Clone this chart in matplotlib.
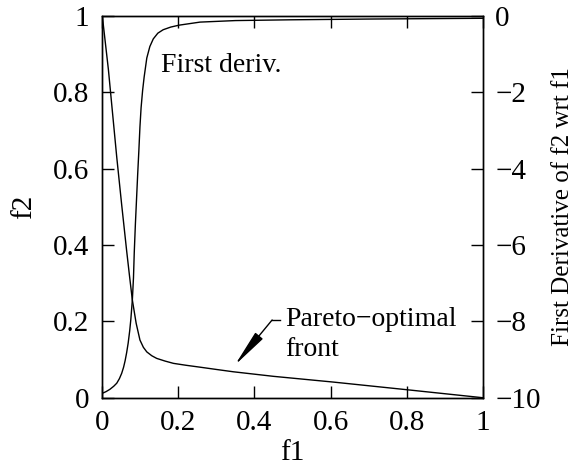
import matplotlib
matplotlib.use("Agg")
import matplotlib.pyplot as plt

plt.rcParams['font.family'] = ['Liberation Serif', 'DejaVu Serif']

# Pareto-optimal front (f1, f2)
front_f1 = [0.0, 0.008, 0.016, 0.027, 0.038, 0.051, 0.064, 0.072, 0.079, 0.089,
            0.099, 0.108, 0.117, 0.130, 0.143, 0.165, 0.187, 0.220, 0.257, 0.300,
            0.344, 0.45, 0.607, 0.80, 1.0]
front_f2 = [1.0, 0.93, 0.860, 0.745, 0.630, 0.505, 0.385, 0.315, 0.256, 0.195,
            0.151, 0.132, 0.120, 0.110, 0.103, 0.096, 0.090, 0.085, 0.080, 0.074,
            0.068, 0.056, 0.041, 0.021, 0.0]

# First derivative of f2 wrt f1
deriv_f1 = [0.0, 0.010, 0.020, 0.030, 0.038, 0.045, 0.051, 0.056, 0.060, 0.064,
            0.068, 0.072, 0.075, 0.079, 0.082, 0.084, 0.087, 0.090, 0.093, 0.096,
            0.099, 0.102, 0.106, 0.110, 0.117, 0.125, 0.134, 0.146, 0.160, 0.180,
            0.202, 0.257, 0.35, 0.493, 0.7, 1.0]
deriv_val = [-9.885, -9.84, -9.78, -9.70, -9.62, -9.50, -9.36, -9.20, -9.03, -8.82,
             -8.57, -8.25, -7.95, -7.44, -6.85, -6.20, -5.45, -4.80, -4.15, -3.55,
             -2.90, -2.40, -1.95, -1.60, -1.10, -0.80, -0.60, -0.45, -0.36, -0.29,
             -0.24, -0.16, -0.12, -0.10, -0.08, -0.06]

xticks = [0, 0.2, 0.4, 0.6, 0.8, 1]
xtick_labels = ["0", "0.2", "0.4", "0.6", "0.8", "1"]
yticks = [0, 0.2, 0.4, 0.6, 0.8, 1]
ytick_labels = ["0", "0.2", "0.4", "0.6", "0.8", "1"]
y2ticks = [-10, -8, -6, -4, -2, 0]

fig = plt.figure(figsize=(5.76, 4.69), dpi=100)
ax = fig.add_axes([0.1776, 0.152, 0.6604, 0.8139])
ax2 = ax.twinx()

lw = 1.0
ax.plot(front_f1, front_f2, color='black', lw=lw)
ax2.plot(deriv_f1, deriv_val, color='black', lw=lw)

ax.set_xlim(0, 1)
ax.set_ylim(0, 1)
ax2.set_ylim(-10, 0)

ax.set_xticks(xticks)
ax.set_xticklabels(xtick_labels)
ax.set_yticks(yticks)
ax.set_yticklabels(ytick_labels)
ax2.set_yticks(y2ticks)

fs = 21
ax.tick_params(axis='x', direction='in', top=True, length=8.6, width=lw,
               labelsize=fs, pad=9)
ax.tick_params(axis='y', direction='in', length=8.6, width=lw,
               labelsize=fs, pad=9.5)
ax2.tick_params(axis='y', direction='in', length=8.6, width=lw,
                labelsize=fs, pad=9)
for a in (ax, ax2):
    for s in a.spines.values():
        s.set_linewidth(lw)

ax.set_xlabel("f1", fontsize=fs, labelpad=3)
ax.set_ylabel("f2", fontsize=fs, labelpad=11.5)
ax2.set_ylabel("First Derivative of f2 wrt f1", fontsize=18, labelpad=8)

ax.text(0.155, 0.853, "First deriv.", fontsize=20, ha='left', va='baseline')
ax.text(0.48, 0.188, "Pareto\u2212optimal", fontsize=20, ha='left', va='baseline')
ax.text(0.48, 0.109, "front", fontsize=20, ha='left', va='baseline')

# annotation arrow
ax.plot([0.4464, 0.4675], [0.2036, 0.2036], color='black', lw=lw)
ax.annotate("", xy=(0.3488, 0.0857), xytext=(0.4464, 0.2036),
            arrowprops=dict(arrowstyle='-|>,head_length=2.3,head_width=0.3',
                            mutation_scale=10, color='black', lw=lw,
                            shrinkA=0, shrinkB=0))

fig.savefig("out.png", dpi=100)
